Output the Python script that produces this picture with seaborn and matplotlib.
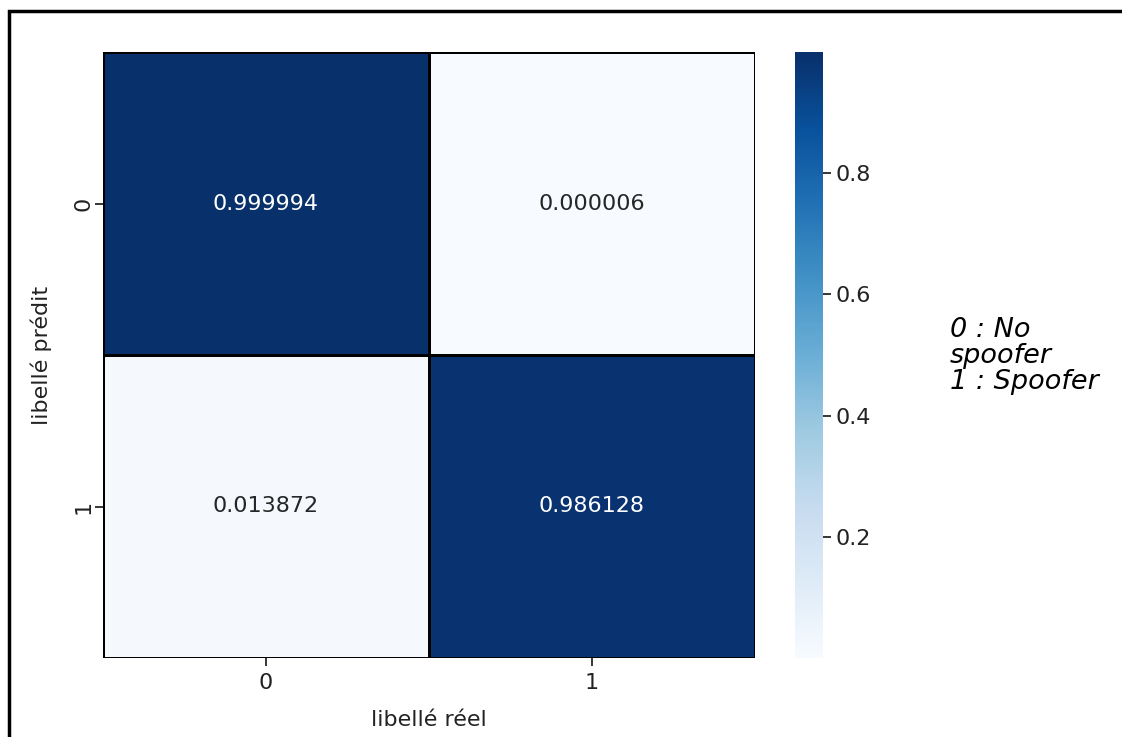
import numpy as np
import pandas as pd
import matplotlib
matplotlib.use("Agg")
import matplotlib.pyplot as plt
import seaborn as sns
from matplotlib.patches import Rectangle

labels = ["0", "1"]
row0 = [0.999994, 0.000006]
row1 = [0.013872, 0.986128]

cm = pd.DataFrame([row0, row1], index=labels, columns=labels)

plt.rcParams['font.family'] = ['DejaVu Sans']
fig = plt.figure(figsize=(11.22, 7.37), dpi=100)
ax = fig.add_axes([103/1122, 1 - 658/737, (755-103)/1122, (658-52)/737])
cax = fig.add_axes([795/1122, 1 - 658/737, (823-795)/1122, (658-52)/737])

sns.heatmap(cm, annot=True, fmt='f', cmap='Blues', linewidths=1.0, linecolor='black',
            ax=ax, cbar_ax=cax, annot_kws={'fontsize': 16})
ax.set_xlabel('libellé réel', fontsize=16, color='#222222', labelpad=12)
ax.set_ylabel('libellé prédit', fontsize=16, color='#222222', labelpad=15)
ax.tick_params(axis='x', labelsize=16, length=5.6, width=1.1, labelcolor='#222222', pad=5.5)
ax.tick_params(axis='y', labelsize=16, length=5.6, width=1.1, labelcolor='#222222', pad=1.5)
cax.tick_params(labelsize=16, length=5.6, width=1.1, labelcolor='#222222')

fig.text(950/1122, 1 - 317/737, '0 : No\nspoofer\n1 : Spoofer', fontsize=19.5,
         style='italic', va='top', ha='left', linespacing=1.0)

fig.patches.append(Rectangle((9/1122, -0.1), 1.2, 1 - 11/737 + 0.1, transform=fig.transFigure,
                             fill=False, edgecolor='black', linewidth=2.5, zorder=10))

fig.savefig('out.png', dpi=100)
